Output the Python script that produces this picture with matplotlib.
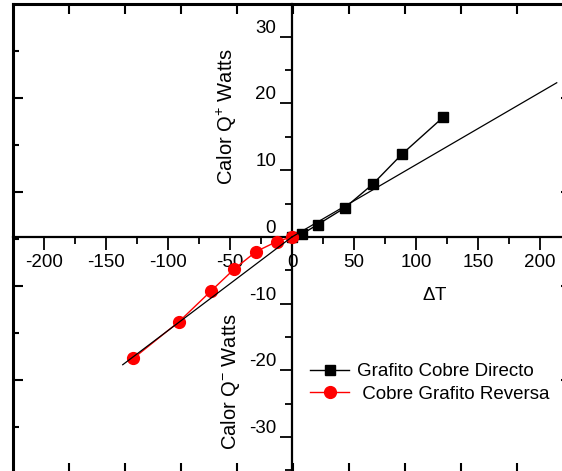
import matplotlib.pyplot as plt
from matplotlib.ticker import MultipleLocator

plt.rcParams['font.family'] = ['Liberation Sans', 'DejaVu Sans']
plt.rcParams['mathtext.fontset'] = 'custom'
plt.rcParams['mathtext.rm'] = 'Liberation Sans'
plt.rcParams['mathtext.it'] = 'Liberation Sans'
plt.rcParams['axes.unicode_minus'] = False

# Grafito -> Cobre (directo)
dT_directo = [0, 7.8, 20.7, 42.5, 65.1, 88.7, 122.0]
Q_directo = [0, 0.4, 1.85, 4.35, 7.9, 12.4, 17.95]
# Cobre -> Grafito (reversa)
dT_reversa = [0, -12.4, -29.0, -46.5, -65.3, -91.1, -128.0]
Q_reversa = [0, -0.7, -2.2, -4.8, -8.1, -12.7, -18.2]
# rectas de ajuste
ajuste_pos_x = [0, 213.5]
ajuste_pos_y = [0, 23.1]
ajuste_neg_x = [-136.5, 0]
ajuste_neg_y = [-19.15, 0]

W, H = 562, 471
fig = plt.figure(figsize=(W / 100, H / 100), dpi=100)

# posicion comun de las dos capas (en pixeles)
left_px, right_px, top_px, bottom_px = 13, 571, 4, 472.5
rect = [left_px / W, 1 - bottom_px / H, (right_px - left_px) / W, (bottom_px - top_px) / H]

# capa del marco exterior
frame = fig.add_axes(rect)
frame.set_xlim(0, (right_px - left_px) / 56)
frame.set_ylim((bottom_px - top_px) / 47, 0)
frame.set_xticks(range(1, 10))
frame.set_yticks([2, 4, 6, 8])
frame.set_yticks([1, 3, 5, 7, 9], minor=True)
frame.tick_params(which='both', direction='in', top=True, bottom=True, left=True, right=True,
                  labelbottom=False, labelleft=False, width=1.5)
frame.tick_params(which='major', length=7)
frame.tick_params(which='minor', length=4)
for s in frame.spines.values():
    s.set_linewidth(2.2)

# capa de datos con ejes cruzando en el origen
ax = fig.add_axes(rect)
ax.patch.set_visible(False)
ax.set_xlim(-225, 225)
ax.set_ylim(-35.3, 34.9)
ax.spines['top'].set_visible(False)
ax.spines['right'].set_visible(False)
ax.spines['left'].set_position(('data', 0))
ax.spines['bottom'].set_position(('data', 0))
ax.spines['left'].set_linewidth(1.6)
ax.spines['bottom'].set_linewidth(1.6)
ax.set_xticks(range(-200, 201, 50))
ax.set_yticks(range(-30, 31, 10))
ax.xaxis.set_minor_locator(MultipleLocator(25))
ax.yaxis.set_minor_locator(MultipleLocator(5))
ax.tick_params(which='both', direction='out', labelsize=13.5, width=1.3)
ax.tick_params(which='major', length=9)
ax.tick_params(which='minor', length=5)
ax.tick_params(axis='x', pad=3.5)
ax.tick_params(axis='y', pad=2.5)

ax.plot(dT_directo, Q_directo, color='black', marker='s', markersize=7, linewidth=1,
        label='Grafito Cobre Directo', zorder=3)
ax.plot(dT_reversa, Q_reversa, color='red', marker='o', markersize=8.5, linewidth=1,
        label=' Cobre Grafito Reversa', zorder=3)
ax.plot(ajuste_pos_x, ajuste_pos_y, color='black', linewidth=0.9, zorder=4)
ax.plot(ajuste_neg_x, ajuste_neg_y, color='black', linewidth=0.9, zorder=4)

# el "0" del eje vertical va encima del eje horizontal
for tick in ax.yaxis.get_major_ticks():
    if tick.get_loc() == 0:
        tick.label1.set_va('bottom')

fig.text(227 / W, 1 - 117 / H, r'Calor Q$^{+}$ Watts', rotation=90, fontsize=14.5,
         ha='center', va='center')
fig.text(230 / W, 1 - 382 / H, r'Calor Q$^{-}$ Watts', rotation=90, fontsize=14.5,
         ha='center', va='center')
fig.text(435 / W, 1 - 295 / H, r'$\Delta$T', fontsize=13.5, ha='center', va='center')

ax.legend(loc='upper left', bbox_to_anchor=(310 / W, 1 - 363 / H), bbox_transform=fig.transFigure,
          frameon=False, fontsize=13.5, handlelength=2.1, handletextpad=0.4, borderpad=0,
          borderaxespad=0, labelspacing=0.3)

plt.savefig('out.png', dpi=100)
